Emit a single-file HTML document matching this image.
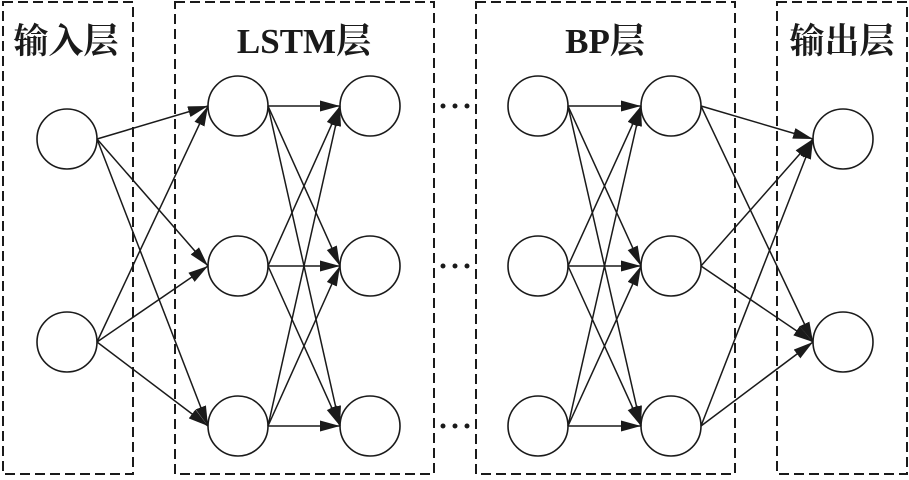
<!DOCTYPE html>
<html><head><meta charset="utf-8"><style>
html,body{margin:0;padding:0;background:#fff}
svg{display:block}
text{font-family:"Liberation Serif","Noto Serif CJK SC",serif;font-weight:bold;font-size:35px;fill:#1a1a1a}
</style></head><body>
<svg width="909" height="480" viewBox="0 0 909 480" xmlns="http://www.w3.org/2000/svg">
<defs>
<marker id="a" markerUnits="userSpaceOnUse" markerWidth="22" markerHeight="12" refX="20" refY="5.5" orient="auto">
<path d="M0,0 L20,5.5 L0,11 Z" fill="#1a1a1a"/>
</marker>
</defs>
<g fill="none" stroke="#1a1a1a" stroke-width="2" stroke-dasharray="10,5">
<rect x="3" y="2" width="130" height="472"/>
<rect x="175" y="2" width="259" height="472"/>
<rect x="476" y="2" width="259" height="472"/>
<rect x="777" y="2" width="130" height="472"/>
</g>
<text x="66" y="53" text-anchor="middle">输入层</text>
<text x="304" y="53" text-anchor="middle">LSTM层</text>
<text x="605" y="53" text-anchor="middle">BP层</text>
<text x="842" y="53" text-anchor="middle">输出层</text>
<g fill="#fff" stroke="#1a1a1a" stroke-width="1.6">
<circle cx="67" cy="139" r="30"/><circle cx="67" cy="342" r="30"/>
<circle cx="238" cy="106" r="30"/><circle cx="238" cy="266" r="30"/><circle cx="238" cy="426" r="30"/>
<circle cx="370" cy="106" r="30"/><circle cx="370" cy="266" r="30"/><circle cx="370" cy="426" r="30"/>
<circle cx="538" cy="106" r="30"/><circle cx="538" cy="266" r="30"/><circle cx="538" cy="426" r="30"/>
<circle cx="671" cy="106" r="30"/><circle cx="671" cy="266" r="30"/><circle cx="671" cy="426" r="30"/>
<circle cx="843" cy="139" r="30"/><circle cx="843" cy="342" r="30"/>
</g>
<g stroke="#1a1a1a" stroke-width="1.5" marker-end="url(#a)">
<line x1="97" y1="139" x2="208" y2="106"/><line x1="97" y1="139" x2="208" y2="266"/><line x1="97" y1="139" x2="208" y2="426"/>
<line x1="97" y1="342" x2="208" y2="106"/><line x1="97" y1="342" x2="208" y2="266"/><line x1="97" y1="342" x2="208" y2="426"/>
<line x1="268" y1="106" x2="340" y2="106"/><line x1="268" y1="106" x2="340" y2="266"/><line x1="268" y1="106" x2="340" y2="426"/>
<line x1="268" y1="266" x2="340" y2="106"/><line x1="268" y1="266" x2="340" y2="266"/><line x1="268" y1="266" x2="340" y2="426"/>
<line x1="268" y1="426" x2="340" y2="106"/><line x1="268" y1="426" x2="340" y2="266"/><line x1="268" y1="426" x2="340" y2="426"/>
<line x1="568" y1="106" x2="641" y2="106"/><line x1="568" y1="106" x2="641" y2="266"/><line x1="568" y1="106" x2="641" y2="426"/>
<line x1="568" y1="266" x2="641" y2="106"/><line x1="568" y1="266" x2="641" y2="266"/><line x1="568" y1="266" x2="641" y2="426"/>
<line x1="568" y1="426" x2="641" y2="106"/><line x1="568" y1="426" x2="641" y2="266"/><line x1="568" y1="426" x2="641" y2="426"/>
<line x1="701" y1="106" x2="813" y2="139"/><line x1="701" y1="106" x2="813" y2="342"/>
<line x1="701" y1="266" x2="813" y2="139"/><line x1="701" y1="266" x2="813" y2="342"/>
<line x1="701" y1="426" x2="813" y2="139"/><line x1="701" y1="426" x2="813" y2="342"/>
</g>
<g fill="#1a1a1a">
<circle cx="443" cy="106" r="2.5"/><circle cx="455" cy="106" r="2.5"/><circle cx="467" cy="106" r="2.5"/>
<circle cx="443" cy="266" r="2.5"/><circle cx="455" cy="266" r="2.5"/><circle cx="467" cy="266" r="2.5"/>
<circle cx="443" cy="426" r="2.5"/><circle cx="455" cy="426" r="2.5"/><circle cx="467" cy="426" r="2.5"/>
</g>
</svg>
</body></html>
